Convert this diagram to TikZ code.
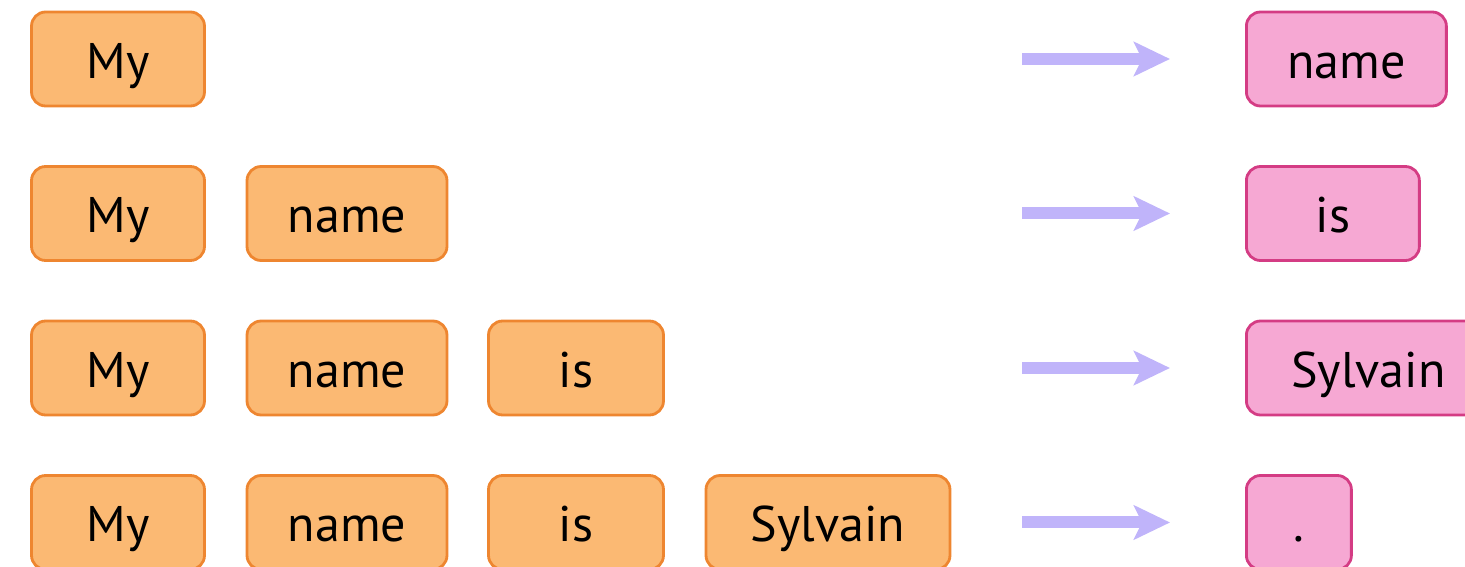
\documentclass[tikz,border=0pt]{standalone}
\usepackage{fontspec}
\setmainfont{PT Sans}
\usetikzlibrary{arrows.meta, positioning}
\definecolor{tokfill}{RGB}{251,185,115}
\definecolor{tokline}{RGB}{238,134,48}
\definecolor{predfill}{RGB}{246,168,211}
\definecolor{predline}{RGB}{212,60,132}
\definecolor{flowcol}{RGB}{192,180,250}

\begin{document}
\begin{tikzpicture}[x=0.02cm, y=-0.02cm,
  tok/.style={draw=tokline, fill=tokfill, line width=1.6pt, rounded corners=8pt,
    minimum height=1.88cm, inner sep=0pt, text height=22pt, text depth=0pt,
    font=\fontsize{28.5}{32}\selectfont},
  pred/.style={tok, draw=predline, fill=predfill, anchor=west},
  flow/.style={draw=flowcol, line width=0.24cm,
    -{Stealth[length=0.72cm, width=0.68cm, inset=0.16cm]}}]
 \useasboundingbox (0,0) rectangle (1465,567);
 % context words: word i shows up in rows i..4
 \foreach \w/\cx/\bw [count=\i] in {My/118/3.46, name/347/4.0, is/576/3.5, Sylvain/828/4.88}{
   \foreach \r in {\i,...,4}{
     \pgfmathsetmacro\y{59+154.5*(\r-1)}
     \node[tok, minimum width=\bw cm] (w\i-\r) at (\cx,\y) {\w};
   }
 }
 % next word predicted for each row
 \foreach \w/\bw [count=\r] in {name/4.0, is/3.46, Sylvain/4.88, ./2.1}{
   \pgfmathsetmacro\y{59+154.5*(\r-1)}
   \node[pred, minimum width=\bw cm] (p\r) at (1245,\y) {\w};
   \coordinate (s\r) at (1022,\y);
   \draw[flow] (s\r) -- ([xshift=-1.5cm]p\r.west);
 }
\end{tikzpicture}
\end{document}
